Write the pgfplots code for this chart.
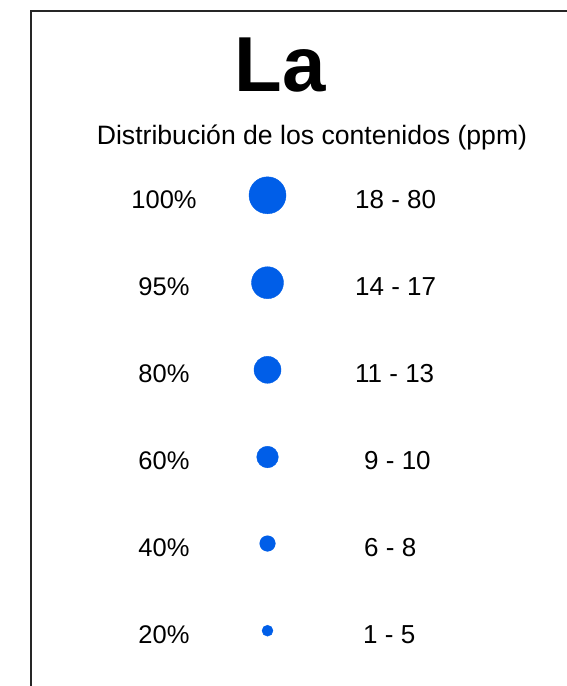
\documentclass[border=0pt]{standalone}
\usepackage{pgfplots}
\pgfplotsset{compat=1.18}
\usepackage{fontspec}
\setmainfont{Liberation Sans}
\definecolor{dotblue}{RGB}{0,94,232}
\newcommand{\rowfont}{\fontsize{25.5bp}{30bp}\selectfont}
\newcommand{\rngfont}{\fontsize{26bp}{30bp}\selectfont}
\begin{document}
\begin{tikzpicture}
\useasboundingbox (0,0) rectangle (567bp,686bp);
\begin{axis}[
  at={(0,0)}, anchor=south west,
  width=567bp, height=686bp, scale only axis,
  xmin=0, xmax=567, ymin=0, ymax=686,
  y dir=reverse,
  hide axis, clip=false,
]
% frame (only left and top edges are inside the picture)
\addplot [black!85, line width=1.3bp, mark=none] coordinates {(31,690) (31,11) (570,11)};

% bubbles, radius in bp
\addplot [only marks, mark=*, dotblue, mark size=18.5bp] coordinates {(267.5,195.3)};
\addplot [only marks, mark=*, dotblue, mark size=16bp]   coordinates {(267.5,282.7)};
\addplot [only marks, mark=*, dotblue, mark size=13.5bp] coordinates {(267.5,369.8)};
\addplot [only marks, mark=*, dotblue, mark size=10.8bp] coordinates {(267.5,457.0)};
\addplot [only marks, mark=*, dotblue, mark size=7.8bp]  coordinates {(267.5,543.5)};
\addplot [only marks, mark=*, dotblue, mark size=5.5bp]  coordinates {(267.5,630.7)};

% titles
\node[anchor=base, inner sep=0pt, font=\fontsize{78bp}{80bp}\selectfont\bfseries] at (axis cs:280,92) {La};
\node[anchor=base, inner sep=0pt, font=\fontsize{26.6bp}{30bp}\selectfont] at (axis cs:312,145) {Distribución de los contenidos (ppm)};

% left column
\node[anchor=base, inner sep=0pt, font=\rowfont] at (axis cs:164,208) {100\%};
\node[anchor=base, inner sep=0pt, font=\rowfont] at (axis cs:164,295) {95\%};
\node[anchor=base, inner sep=0pt, font=\rowfont] at (axis cs:164,382) {80\%};
\node[anchor=base, inner sep=0pt, font=\rowfont] at (axis cs:164,469) {60\%};
\node[anchor=base, inner sep=0pt, font=\rowfont] at (axis cs:164,556) {40\%};
\node[anchor=base, inner sep=0pt, font=\rowfont] at (axis cs:164,643) {20\%};

% right column
\node[anchor=base west, inner sep=0pt, font=\rngfont] at (axis cs:355,208) {18 - 80};
\node[anchor=base west, inner sep=0pt, font=\rngfont] at (axis cs:355,295) {14 - 17};
\node[anchor=base west, inner sep=0pt, font=\rngfont] at (axis cs:355,382) {11 - 13};
\node[anchor=base west, inner sep=0pt, font=\rngfont] at (axis cs:364,469) {9 - 10};
\node[anchor=base west, inner sep=0pt, font=\rngfont] at (axis cs:364,556) {6 - 8};
\node[anchor=base west, inner sep=0pt, font=\rngfont] at (axis cs:363,643) {1 - 5};
\end{axis}
\end{tikzpicture}
\end{document}
